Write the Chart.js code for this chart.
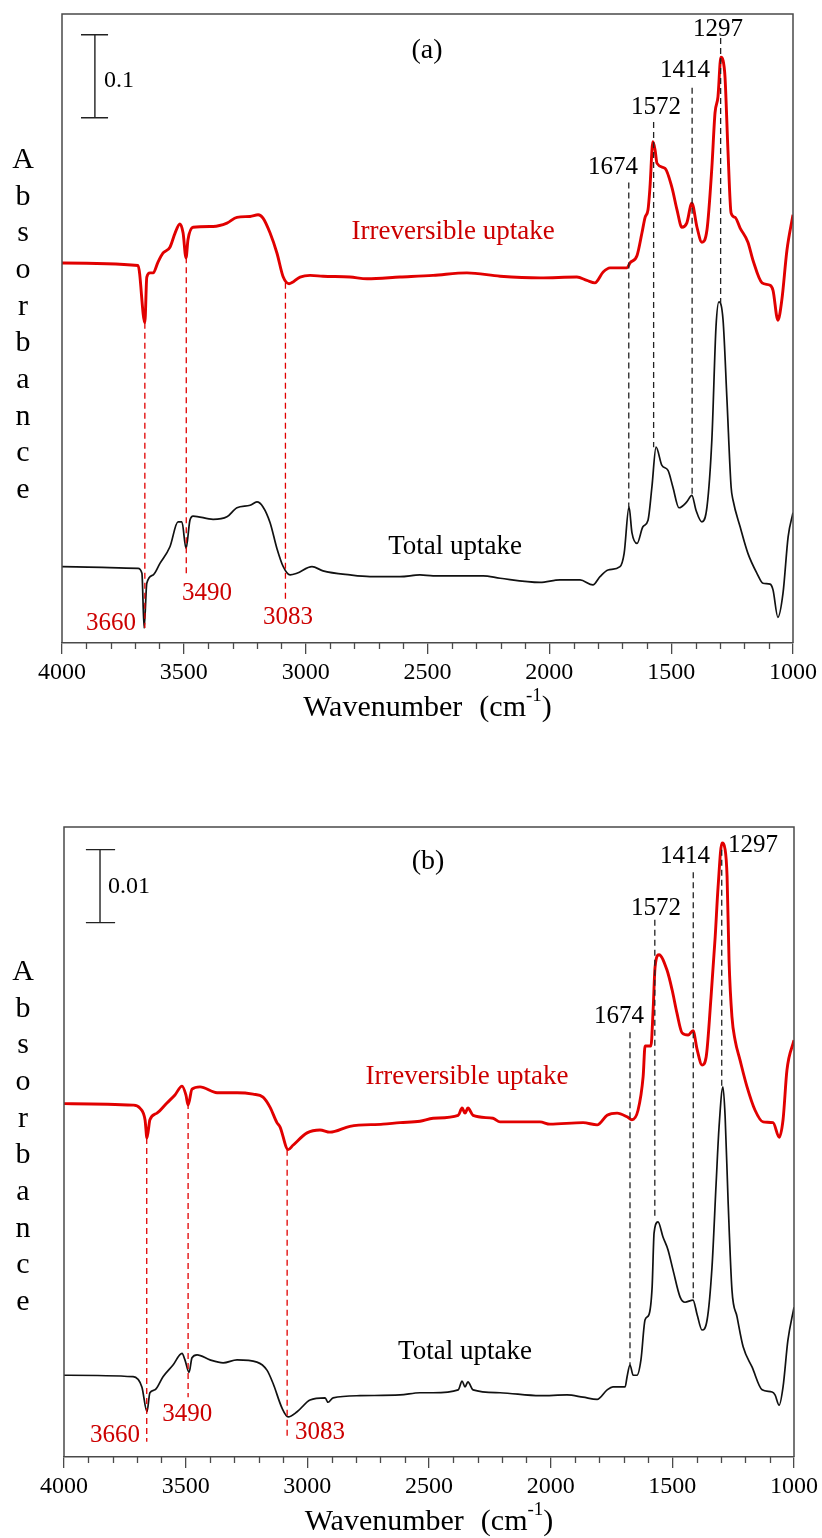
<!DOCTYPE html>
<html>
<head>
<meta charset="utf-8">
<script src="https://cdn.jsdelivr.net/npm/chart.js@4/dist/chart.umd.min.js"></script>
<style>
  html, body { margin: 0; padding: 0; background: #fff; }
  #wrap { position: relative; width: 822px; height: 1538px; }
  .panel { position: absolute; left: 0; width: 822px; }
</style>
</head>
<body>
<div id="wrap">
  <div class="panel" style="top:0;height:770px"><canvas id="panelA" width="822" height="770"></canvas></div>
  <div class="panel" style="top:770px;height:768px"><canvas id="panelB" width="822" height="768"></canvas></div>
</div>
<script>
// ---------- Panel (a): spectra ----------
const irrevA_wn = [4000, 3688, 3660, 3652, 3639, 3626, 3606, 3585, 3557, 3536, 3516, 3503, 3491, 3483, 3462, 3380, 3323, 3282, 3228, 3195, 3175, 3146, 3118, 3092, 3068, 3023, 2982, 2929, 2818, 2748, 2613, 2477, 2338, 2202, 2038, 1887, 1846, 1813, 1779, 1751, 1681, 1669, 1640, 1620, 1607, 1595, 1587, 1575, 1566, 1558, 1525, 1497, 1476, 1456, 1436, 1415, 1394, 1374, 1353, 1333, 1320, 1308, 1296, 1287, 1279, 1267, 1254, 1238, 1217, 1185, 1164, 1127, 1094, 1082, 1062, 1046, 1025, 1000];
const irrevA_abs = [0.458, 0.455, 0.386, 0.441, 0.446, 0.446, 0.459, 0.470, 0.477, 0.494, 0.505, 0.494, 0.464, 0.486, 0.501, 0.502, 0.506, 0.513, 0.514, 0.516, 0.512, 0.494, 0.470, 0.441, 0.433, 0.441, 0.443, 0.442, 0.441, 0.439, 0.441, 0.443, 0.446, 0.442, 0.440, 0.441, 0.437, 0.434, 0.447, 0.452, 0.452, 0.458, 0.467, 0.494, 0.513, 0.522, 0.549, 0.604, 0.594, 0.578, 0.572, 0.549, 0.522, 0.501, 0.506, 0.530, 0.501, 0.483, 0.498, 0.573, 0.639, 0.658, 0.706, 0.702, 0.682, 0.594, 0.518, 0.513, 0.500, 0.483, 0.461, 0.434, 0.431, 0.425, 0.389, 0.413, 0.473, 0.516];

const totalA_wn = [4000, 3688, 3672, 3663, 3652, 3626, 3598, 3557, 3524, 3508, 3491, 3475, 3462, 3380, 3323, 3282, 3228, 3200, 3175, 3146, 3118, 3092, 3064, 3036, 2974, 2929, 2818, 2736, 2613, 2531, 2477, 2272, 2202, 2038, 1956, 1874, 1821, 1792, 1759, 1710, 1693, 1673, 1661, 1640, 1616, 1595, 1579, 1562, 1538, 1513, 1493, 1468, 1436, 1415, 1398, 1374, 1353, 1333, 1316, 1304, 1287, 1271, 1254, 1246, 1217, 1185, 1148, 1123, 1094, 1082, 1062, 1041, 1020, 1000];
const totalA_abs = [0.092, 0.090, 0.084, 0.018, 0.072, 0.082, 0.096, 0.116, 0.146, 0.146, 0.114, 0.148, 0.153, 0.149, 0.152, 0.163, 0.166, 0.170, 0.164, 0.145, 0.114, 0.092, 0.082, 0.084, 0.092, 0.087, 0.082, 0.080, 0.080, 0.082, 0.081, 0.081, 0.078, 0.073, 0.076, 0.076, 0.070, 0.080, 0.088, 0.092, 0.108, 0.164, 0.133, 0.120, 0.140, 0.148, 0.188, 0.236, 0.214, 0.208, 0.188, 0.163, 0.170, 0.178, 0.160, 0.146, 0.164, 0.245, 0.381, 0.411, 0.389, 0.293, 0.188, 0.172, 0.140, 0.108, 0.084, 0.072, 0.071, 0.064, 0.031, 0.060, 0.128, 0.157];

// ---------- Panel (b): spectra ----------
const irrevB_wn = [4000, 3716, 3688, 3667, 3659, 3647, 3618, 3577, 3544, 3515, 3499, 3490, 3474, 3441, 3371, 3289, 3223, 3182, 3153, 3125, 3112, 3079, 3059, 3001, 2948, 2907, 2825, 2689, 2619, 2537, 2483, 2380, 2364, 2352, 2340, 2319, 2237, 2208, 2044, 2003, 1867, 1809, 1768, 1727, 1686, 1666, 1641, 1620, 1612, 1588, 1579, 1571, 1555, 1522, 1501, 1481, 1460, 1435, 1415, 1398, 1378, 1361, 1341, 1324, 1312, 1296, 1283, 1275, 1267, 1255, 1242, 1222, 1193, 1160, 1127, 1086, 1061, 1045, 1029, 1000];
const irrevB_abs = [0.0484, 0.0482, 0.0478, 0.0462, 0.0437, 0.0462, 0.0471, 0.0485, 0.0496, 0.0508, 0.0496, 0.0482, 0.0504, 0.0507, 0.0499, 0.0499, 0.0497, 0.0493, 0.0479, 0.0458, 0.0452, 0.0421, 0.0427, 0.0444, 0.0448, 0.0445, 0.0453, 0.0456, 0.0458, 0.0460, 0.0464, 0.0468, 0.0478, 0.0471, 0.0478, 0.0468, 0.0464, 0.0459, 0.0459, 0.0456, 0.0458, 0.0455, 0.0468, 0.0471, 0.0466, 0.0462, 0.0475, 0.0521, 0.0563, 0.0563, 0.0612, 0.0671, 0.0688, 0.0667, 0.0640, 0.0608, 0.0581, 0.0578, 0.0584, 0.0558, 0.0537, 0.0548, 0.0630, 0.0712, 0.0781, 0.0841, 0.0832, 0.0795, 0.0681, 0.0603, 0.0571, 0.0544, 0.0507, 0.0475, 0.0459, 0.0458, 0.0438, 0.0462, 0.0530, 0.0571];

const totalB_wn = [4000, 3716, 3680, 3659, 3647, 3626, 3593, 3552, 3515, 3503, 3486, 3474, 3453, 3400, 3346, 3289, 3207, 3166, 3141, 3104, 3079, 3042, 2989, 2927, 2915, 2894, 2783, 2619, 2537, 2483, 2380, 2364, 2352, 2340, 2319, 2208, 2044, 1933, 1867, 1809, 1768, 1744, 1694, 1686, 1674, 1661, 1645, 1629, 1612, 1596, 1583, 1575, 1559, 1538, 1518, 1497, 1468, 1448, 1415, 1398, 1378, 1357, 1337, 1320, 1308, 1292, 1283, 1271, 1255, 1234, 1209, 1172, 1131, 1090, 1078, 1061, 1045, 1025, 1000];
const totalB_abs = [0.0112, 0.0110, 0.0096, 0.0062, 0.0088, 0.0092, 0.0110, 0.0126, 0.0142, 0.0133, 0.0116, 0.0136, 0.0140, 0.0133, 0.0129, 0.0133, 0.0130, 0.0119, 0.0101, 0.0067, 0.0055, 0.0062, 0.0078, 0.0081, 0.0075, 0.0081, 0.0084, 0.0085, 0.0088, 0.0088, 0.0092, 0.0104, 0.0096, 0.0103, 0.0092, 0.0088, 0.0084, 0.0085, 0.0082, 0.0079, 0.0092, 0.0096, 0.0096, 0.0110, 0.0126, 0.0112, 0.0112, 0.0133, 0.0188, 0.0195, 0.0233, 0.0307, 0.0322, 0.0301, 0.0284, 0.0256, 0.0219, 0.0212, 0.0215, 0.0195, 0.0174, 0.0188, 0.0260, 0.0375, 0.0452, 0.0507, 0.0466, 0.0352, 0.0229, 0.0192, 0.0151, 0.0123, 0.0092, 0.0089, 0.0085, 0.0071, 0.0096, 0.0160, 0.0205];

// ---------- Band assignments ----------
const peakBands = [1674, 1572, 1414, 1297];   // black dashed markers, labelled at top
const hydroxylBands = [3660, 3490, 3083];     // red dashed markers, labelled at bottom

// Marker extents (absorbance, from -> to) and label anchors (wavenumber, absorbance)
const peakSpanA = [[0.555, 0.164], [0.628, 0.236], [0.669, 0.178], [0.729, 0.410]];
const peakLabelA = [[1739, 0.573], [1562, 0.645], [1443, 0.690], [1308, 0.739]];
const ohSpanA = [[0.386, 0.018], [0.465, 0.084], [0.434, 0.052]];
const ohLabelA = [[3799, 0.024], [3405, 0.060], [3072, 0.031]];

const peakSpanB = [[0.0582, 0.0126], [0.0736, 0.0325], [0.0801, 0.0215], [0.0832, 0.0507]];
const peakLabelB = [[1719, 0.0603], [1567, 0.0752], [1448, 0.0822], [1168, 0.0838]];
const ohSpanB = [[0.0437, 0.0021], [0.0485, 0.0082], [0.0421, 0.0027]];
const ohLabelB = [[3790, 0.0030], [3494, 0.0058], [2948, 0.0034]];

// Wavenumber axis
const wnMin = 1000, wnMax = 4000, wnMajor = 500, wnMinor = 100;

const SERIF = "'Liberation Serif', 'Times New Roman', serif";
const RED = '#e10000';
const RED_TEXT = '#cc0000';
const INK = '#111111';
const FRAME = '#4a4a4a';

const pts = (wn, ab) => wn.map((w, i) => ({ x: w, y: ab[i] }));
const vseg = (w, span) => [{ x: w, y: span[0] }, { x: w, y: span[1] }];

function scaleBar(w, lo, hi, capL, capR) {
  return [
    { x: capL, y: hi }, { x: capR, y: hi }, { x: w, y: null },
    { x: w, y: hi }, { x: w, y: lo }, { x: w, y: null },
    { x: capL, y: lo }, { x: capR, y: lo }
  ];
}

const panelDecor = {
  id: 'panelDecor',
  afterDraw(chart, args, o) {
    const { ctx, chartArea: ca, scales: { x, y } } = chart;
    ctx.save();
    // frame: left, top, right
    ctx.strokeStyle = FRAME;
    ctx.lineWidth = 1.5;
    ctx.beginPath();
    ctx.moveTo(ca.left, ca.bottom);
    ctx.lineTo(ca.left, ca.top);
    ctx.lineTo(ca.right, ca.top);
    ctx.lineTo(ca.right, ca.bottom);
    ctx.stroke();
    // minor ticks on the wavenumber axis
    ctx.lineWidth = 1.3;
    ctx.beginPath();
    for (let w = wnMin + wnMinor; w < wnMax; w += wnMinor) {
      if (w % wnMajor === 0) continue;
      const px = Math.round(x.getPixelForValue(w)) + 0.5;
      ctx.moveTo(px, ca.bottom);
      ctx.lineTo(px, ca.bottom + 6);
    }
    ctx.stroke();
    // text annotations
    ctx.textBaseline = 'middle';
    for (const t of o.texts) {
      ctx.font = `${t.size}px ${SERIF}`;
      ctx.fillStyle = t.color;
      ctx.textAlign = t.align || 'center';
      ctx.fillText(t.text, x.getPixelForValue(t.w), y.getPixelForValue(t.a));
    }
    // stacked vertical axis title
    ctx.font = `30px ${SERIF}`;
    ctx.fillStyle = '#000';
    ctx.textAlign = 'center';
    const letters = 'Absorbance'.split('');
    letters.forEach((ch, i) => ctx.fillText(ch, 23, ca.top + o.yTitleOffset + i * 36.7));
    // horizontal axis title with superscript
    const ty = ca.bottom + 65;
    const p1 = 'Wavenumber', p2 = '(cm', sup = '-1', p3 = ')';
    ctx.font = `30px ${SERIF}`;
    const w1 = ctx.measureText(p1).width, gap = 17, w2 = ctx.measureText(p2).width, w4 = ctx.measureText(p3).width;
    ctx.font = `19px ${SERIF}`;
    const w3 = ctx.measureText(sup).width;
    const total = w1 + gap + w2 + w3 + w4;
    let cx = (ca.left + ca.right) / 2 - total / 2;
    ctx.textAlign = 'left';
    ctx.font = `30px ${SERIF}`;
    ctx.fillText(p1, cx, ty); cx += w1 + gap;
    ctx.fillText(p2, cx, ty); cx += w2;
    ctx.font = `19px ${SERIF}`;
    ctx.fillText(sup, cx, ty - 12); cx += w3;
    ctx.font = `30px ${SERIF}`;
    ctx.fillText(p3, cx, ty);
    ctx.restore();
  }
};

function buildPanel(id, p) {
  const datasets = [];
  peakBands.forEach((b, i) => datasets.push({
    data: vseg(b, p.peakSpan[i]), borderColor: '#222', borderWidth: 1.3, borderDash: [6, 4]
  }));
  hydroxylBands.forEach((b, i) => datasets.push({
    data: vseg(b, p.ohSpan[i]), borderColor: RED, borderWidth: 1.3, borderDash: [6, 4]
  }));
  datasets.push({ data: p.bar, borderColor: '#222', borderWidth: 1.4, spanGaps: false });
  datasets.push({ data: p.total, borderColor: INK, borderWidth: 1.7, cubicInterpolationMode: 'monotone' });
  datasets.push({ data: p.irrev, borderColor: RED, borderWidth: 2.9, cubicInterpolationMode: 'monotone' });
  datasets.forEach(d => { d.pointRadius = 0; d.fill = false; });

  const texts = [];
  peakBands.forEach((b, i) => texts.push({ text: String(b), w: p.peakLabel[i][0], a: p.peakLabel[i][1], size: 25, color: '#000' }));
  hydroxylBands.forEach((b, i) => texts.push({ text: String(b), w: p.ohLabel[i][0], a: p.ohLabel[i][1], size: 25, color: RED_TEXT }));
  texts.push(...p.extraTexts);

  return new Chart(document.getElementById(id), {
    type: 'line',
    data: { datasets },
    plugins: [panelDecor],
    options: {
      responsive: false,
      animation: false,
      events: [],
      layout: { padding: p.pad },
      plugins: { legend: { display: false }, tooltip: { enabled: false }, panelDecor: { texts, yTitleOffset: p.yTitleOffset } },
      scales: {
        x: {
          type: 'linear', reverse: true, min: wnMin, max: wnMax,
          ticks: { stepSize: wnMajor, autoSkip: false, maxRotation: 0, padding: 4, color: '#000',
                   font: { family: SERIF, size: 24 }, callback: v => String(v) },
          grid: { drawOnChartArea: false, drawTicks: true, tickLength: 11, color: FRAME, lineWidth: 1.3 },
          border: { color: FRAME, width: 1.5 },
          afterFit(s) { s.height = p.axisHeight; }
        },
        y: { type: 'linear', display: false, min: 0, max: p.yMax }
      }
    }
  });
}

buildPanel('panelA', {
  irrev: pts(irrevA_wn, irrevA_abs),
  total: pts(totalA_wn, totalA_abs),
  peakSpan: peakSpanA, peakLabel: peakLabelA, ohSpan: ohSpanA, ohLabel: ohLabelA,
  bar: scaleBar(3865, 0.633, 0.733, 3922, 3811),
  yMax: 0.758,
  pad: { top: 14, left: 62, right: 29, bottom: 0 },
  axisHeight: 127,
  yTitleOffset: 146,
  extraTexts: [
    { text: '(a)', w: 2502, a: 0.714, size: 28, color: '#000' },
    { text: '0.1', w: 3828, a: 0.678, size: 24, color: '#000', align: 'left' },
    { text: 'Irreversible uptake', w: 2395, a: 0.495, size: 27, color: RED_TEXT },
    { text: 'Total uptake', w: 2387, a: 0.116, size: 27, color: '#000' }
  ]
});

buildPanel('panelB', {
  irrev: pts(irrevB_wn, irrevB_abs),
  total: pts(totalB_wn, totalB_abs),
  peakSpan: peakSpanB, peakLabel: peakLabelB, ohSpan: ohSpanB, ohLabel: ohLabelB,
  bar: scaleBar(3852, 0.0732, 0.0832, 3910, 3790),
  yMax: 0.0863,
  pad: { top: 57, left: 64, right: 28, bottom: 0 },
  axisHeight: 81,
  yTitleOffset: 145,
  extraTexts: [
    { text: '(b)', w: 2504, a: 0.0815, size: 28, color: '#000' },
    { text: '0.01', w: 3819, a: 0.0781, size: 24, color: '#000', align: 'left' },
    { text: 'Irreversible uptake', w: 2344, a: 0.0521, size: 27, color: RED_TEXT },
    { text: 'Total uptake', w: 2352, a: 0.0144, size: 27, color: '#000' }
  ]
});
</script>
</body>
</html>
